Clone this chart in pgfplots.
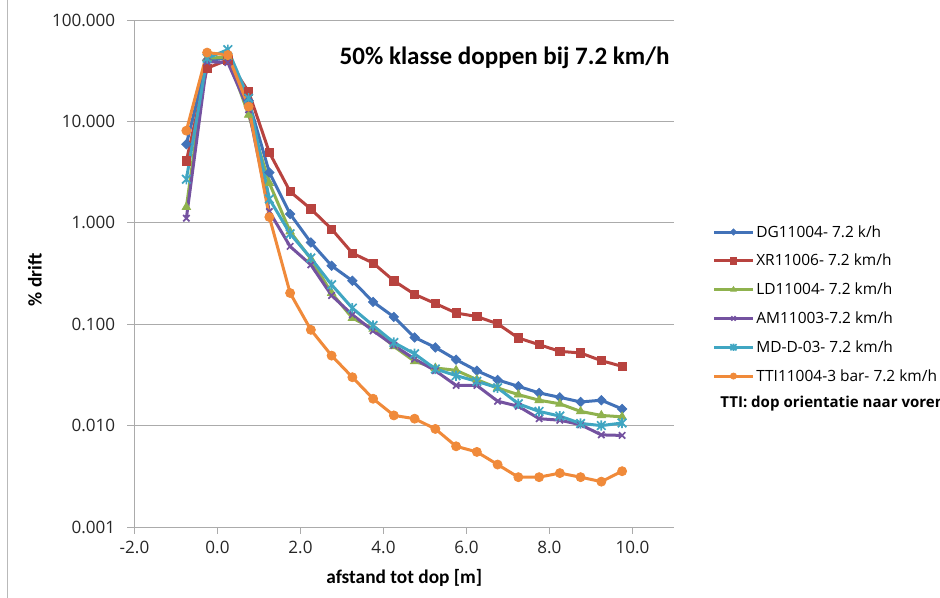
\documentclass[border=0pt]{standalone}
\usepackage{fontspec}
\setmainfont{Carlito}
\newfontfamily\osans{Open Sans}
\usepackage{pgfplots}
\usepackage{pgfplotstable}
\pgfplotsset{compat=1.18}
\definecolor{cDG}{HTML}{4272B8}
\definecolor{cXR}{HTML}{B8433F}
\definecolor{cLD}{HTML}{8FB24E}
\definecolor{cAM}{HTML}{7452A0}
\definecolor{cMD}{HTML}{40A6C2}
\definecolor{cTTI}{HTML}{F08A3A}
\definecolor{gridc}{HTML}{ABABAB}
\pgfdeclareplotmark{xstar}{%
  \pgfpathmoveto{\pgfqpoint{-\pgfplotmarksize}{-\pgfplotmarksize}}%
  \pgfpathlineto{\pgfqpoint{\pgfplotmarksize}{\pgfplotmarksize}}%
  \pgfpathmoveto{\pgfqpoint{-\pgfplotmarksize}{\pgfplotmarksize}}%
  \pgfpathlineto{\pgfqpoint{\pgfplotmarksize}{-\pgfplotmarksize}}%
  \pgfpathmoveto{\pgfqpoint{0pt}{-1.2\pgfplotmarksize}}%
  \pgfpathlineto{\pgfqpoint{0pt}{1.2\pgfplotmarksize}}%
  \pgfusepathqstroke}
\pgfdeclareplotmark{sqdiamond}{%
  \pgfpathmoveto{\pgfqpoint{0pt}{\pgfplotmarksize}}%
  \pgfpathlineto{\pgfqpoint{\pgfplotmarksize}{0pt}}%
  \pgfpathlineto{\pgfqpoint{0pt}{-\pgfplotmarksize}}%
  \pgfpathlineto{\pgfqpoint{-\pgfplotmarksize}{0pt}}%
  \pgfpathclose
  \pgfusepathqfillstroke}

\pgfplotstableread{
x      DG      XR      LD      AM      MD      TTI
-0.75  5.96    4.08    1.43    1.11    2.69    8.1
-0.25  40      33.5    42      38.8    42      47.7
0.25   42      40.4    43      38      51      45.2
0.75   16      19.6    11.6    13      16.9    14.0
1.25   3.13    4.93    2.46    1.29    1.72    1.14
1.75   1.22    2.03    0.82    0.585   0.78    0.203
2.25   0.64    1.37    0.44    0.385   0.449   0.088
2.75   0.377   0.867   0.203   0.192   0.245   0.049
3.25   0.268   0.502   0.115   0.124   0.144   0.0300
3.75   0.166   0.401   0.090   0.086   0.097   0.0184
4.25   0.118   0.268   0.0604  0.0618  0.066   0.0126
4.75   0.074   0.197   0.043   0.0454  0.051   0.0117
5.25   0.059   0.160   0.037   0.0348  0.0362  0.00927
5.75   0.0447  0.129   0.0351  0.0249  0.0311  0.00625
6.25   0.0348  0.119   0.0284  0.0249  0.0273  0.0055
6.75   0.0282  0.101   0.0235  0.0174  0.0236  0.00413
7.25   0.0244  0.0731  0.0202  0.0155  0.0164  0.0031
7.75   0.0210  0.0628  0.0178  0.0117  0.0138  0.0031
8.25   0.0190  0.0540  0.0164  0.0113  0.0124  0.0034
8.75   0.0171  0.0520  0.0138  0.0102  0.0105  0.0031
9.25   0.0178  0.0437  0.0126  0.0081  0.0100  0.0028
9.75   0.0146  0.0384  0.0122  0.0080  0.0106  0.00355
}\drift

\begin{document}
\begin{tikzpicture}
\useasboundingbox (0,0) rectangle (705pt,448.5pt);
\draw[gray!55, line width=0.75pt] (5.6pt,0) -- (5.6pt,448.5pt);
\begin{axis}[
  at={(100.875pt,53.25pt)}, anchor=south west,
  scale only axis, width=404.6pt, height=380.25pt,
  xmin=-2, xmax=11, ymin=0.001, ymax=100, ymode=log,
  axis x line=bottom, axis y line=left,
  axis line style={-, draw=gridc, line width=0.7pt},
  xtick={-2,0,2,4,6,8,10},
  xticklabels={-2.0,0.0,2.0,4.0,6.0,8.0,10.0},
  ytick={0.001,0.01,0.1,1,10,100},
  yticklabels={0.001,0.010,0.100,1.000,10.000,100.000},
  yminorticks=false,
  tick align=outside, major tick length=5.25pt,
  tick style={draw=gridc, line width=0.7pt},
  ymajorgrids, grid style={draw=gridc, line width=0.7pt},
  tick label style={font=\osans\fontsize{12.8}{15}\selectfont, text=black!85},
  yticklabel style={xshift=-5.75pt},
  xticklabel style={yshift=-1.5pt},
  xlabel={afstand tot dop [m]},
  ylabel={\% drift},
  label style={font=\bfseries\fontsize{14.5}{17}\selectfont},
  xlabel style={at={(axis description cs:0.5,-0.1006)}, anchor=center},
  ylabel style={at={(axis description cs:-0.1844,0.487)}, anchor=center},
  legend style={at={(axis description cs:1.0712,0.600)}, anchor=north west,
    draw=none, fill=none, inner sep=0pt,
    font=\osans\fontsize{11.6}{14}\selectfont,
    nodes={inner sep=0pt, text height=10.5pt, text depth=3pt},
    row sep=8.1pt, column sep=1.5pt},
  legend cell align=left,
  legend image code/.code={\draw[mark repeat=2,mark phase=2] plot coordinates {(0pt,0pt)(14.5pt,0pt)(29pt,0pt)};},
  legend image post style={mark size=2.3pt},
  every axis plot/.append style={line width=2.25pt},
]
\addplot[color=cDG, mark=sqdiamond, mark size=3.5pt, mark options={solid, fill=cDG, line width=0.6pt}] table[x=x,y=DG] {\drift};
\addlegendentry{DG11004- 7.2 k/h}
\addplot[color=cXR, mark=square*, mark size=3.1pt, mark options={solid, fill=cXR, line width=0.6pt}] table[x=x,y=XR] {\drift};
\addlegendentry{XR11006- 7.2 km/h}
\addplot[color=cLD, mark=triangle*, mark size=3.6pt, mark options={solid, fill=cLD, line width=0.6pt}] table[x=x,y=LD] {\drift};
\addlegendentry{LD11004- 7.2 km/h}
\addplot[color=cAM, mark=x, mark size=3.4pt, mark options={solid, line width=1.3pt}] table[x=x,y=AM] {\drift};
\addlegendentry{AM11003-7.2 km/h}
\addplot[color=cMD, mark=xstar, mark size=3.2pt, mark options={solid, line width=1.3pt}] table[x=x,y=MD] {\drift};
\addlegendentry{MD-D-03- 7.2 km/h}
\addplot[color=cTTI, mark=*, mark size=3.4pt, mark options={solid, fill=cTTI, line width=0.6pt}] table[x=x,y=TTI] {\drift};
\addlegendentry{TTI11004-3 bar- 7.2 km/h}
\node[anchor=west, font=\bfseries\fontsize{18.8}{22}\selectfont] at (axis description cs:0.3716,0.925) {50\% klasse doppen bij 7.2 km/h};
\end{axis}
\node[anchor=west, font=\osans\bfseries\fontsize{11.3}{14}\selectfont, inner sep=0pt] at (540pt,146pt) {TTI: dop orientatie naar voren};
\end{tikzpicture}
\end{document}
